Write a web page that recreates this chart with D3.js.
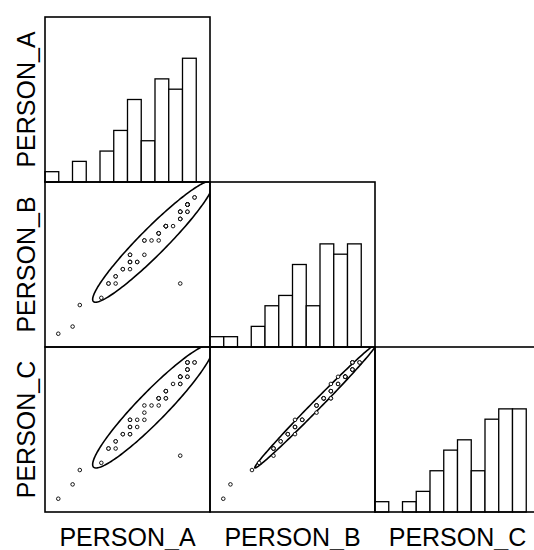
<!DOCTYPE html>
<html>
<head>
<meta charset="utf-8">
<script src="https://cdn.jsdelivr.net/npm/d3@7"></script>
<style>
  html, body { margin: 0; padding: 0; background: #fff; }
  svg { display: block; }
  text { font-family: "Liberation Sans", Arial, sans-serif; fill: #000; }
</style>
</head>
<body>
<svg id="chart" width="534" height="550"></svg>
<script>
// Variable names, in matrix order
const variables = ["PERSON_A", "PERSON_B", "PERSON_C"];

// One record per rated item: the score each person gave
const personA = [0, 2, 3, 6, 7, 7, 8, 8, 8, 9, 9, 10, 10, 10, 10, 10, 10, 11, 11, 12, 12, 12, 13, 14, 14, 14, 14, 14, 15, 15, 15, 15, 15, 16, 17, 17, 17, 17, 17, 17, 17, 17, 18, 18, 18, 18, 18, 18, 18, 18, 18, 18, 19, 19];
const personB = [0, 1, 4, 5, 7, 7, 7, 8, 8, 9, 9, 9, 10, 10, 10, 11, 11, 10, 10, 11, 13, 13, 13, 13, 14, 14, 14, 14, 15, 15, 15, 15, 15, 15, 16, 16, 17, 17, 17, 17, 16, 7, 17, 17, 18, 18, 18, 18, 18, 18, 18, 18, 19, 19];
const personC = [0, 2, 4, 5, 7, 7, 7, 8, 8, 9, 9, 9, 9, 10, 10, 11, 11, 10, 11, 11, 12, 13, 13, 13, 14, 14, 14, 14, 14, 14, 15, 15, 15, 16, 16, 16, 17, 17, 17, 17, 17, 6, 17, 17, 18, 18, 18, 18, 19, 19, 19, 19, 19, 19];

// Shared value range of the score axes and histogram settings
const scoreDomain = [-1.85, 21.15];
const binCount = 12;
const countDomain = [0, 16];
const ellipseLevel = 0.80;

const columns = [personA, personB, personC];

const cell = 165;
const padLeft = 45, padTop = 17;
const svg = d3.select("#chart");

const xScales = variables.map((_, j) =>
  d3.scaleLinear().domain(scoreDomain).range([padLeft + j * cell, padLeft + (j + 1) * cell]));
const yScales = variables.map((_, i) =>
  d3.scaleLinear().domain(scoreDomain).range([padTop + (i + 1) * cell, padTop + i * cell]));

const step = (scoreDomain[1] - scoreDomain[0]) / binCount;
const thresholds = d3.range(1, binCount).map(k => scoreDomain[0] + k * step);
const binner = d3.bin().domain(scoreDomain).thresholds(thresholds);

const defs = svg.append("defs");

// Prediction ellipse from mean and covariance of a pair of columns
function ellipsePoints(xs, ys, level) {
  const n = xs.length;
  const mx = d3.mean(xs), my = d3.mean(ys);
  let sxx = 0, syy = 0, sxy = 0;
  for (let k = 0; k < n; k++) {
    const dx = xs[k] - mx, dy = ys[k] - my;
    sxx += dx * dx; syy += dy * dy; sxy += dx * dy;
  }
  sxx /= (n - 1); syy /= (n - 1); sxy /= (n - 1);
  const tr = sxx + syy, det = sxx * syy - sxy * sxy;
  const l1 = tr / 2 + Math.sqrt(tr * tr / 4 - det);
  const l2 = tr / 2 - Math.sqrt(tr * tr / 4 - det);
  const theta = Math.atan2(l1 - sxx, sxy);
  const c = Math.sqrt(-2 * Math.log(1 - level));
  const a = c * Math.sqrt(l1), b = c * Math.sqrt(Math.max(l2, 0));
  return d3.range(0, 361, 2).map(deg => {
    const t = deg * Math.PI / 180;
    const u = a * Math.cos(t), v = b * Math.sin(t);
    return [mx + u * Math.cos(theta) - v * Math.sin(theta),
            my + u * Math.sin(theta) + v * Math.cos(theta)];
  });
}

variables.forEach((rowVar, i) => {
  variables.forEach((colVar, j) => {
    if (j > i) return;
    const x = xScales[j], y = yScales[i];
    const g = svg.append("g");
    const x0 = padLeft + j * cell, y0 = padTop + i * cell;

    const clipId = `clip-${i}-${j}`;
    defs.append("clipPath").attr("id", clipId)
      .append("rect").attr("x", x0).attr("y", y0).attr("width", cell).attr("height", cell);

    if (i === j) {
      // Histogram on the diagonal
      const bins = binner(columns[i]);
      const yc = d3.scaleLinear().domain(countDomain).range([y0 + cell, y0]);
      g.selectAll("rect.bar")
        .data(bins.filter(b => b.length > 0))
        .join("rect")
        .attr("class", "bar")
        .attr("x", b => x(b.x0))
        .attr("width", b => x(b.x1) - x(b.x0))
        .attr("y", b => yc(b.length))
        .attr("height", b => yc(0) - yc(b.length))
        .attr("fill", "#fff")
        .attr("stroke", "#000")
        .attr("stroke-width", 1.3);
    } else {
      const xs = columns[j], ys = columns[i];
      const pts = xs.map((v, k) => [v, ys[k]]);
      const ell = ellipsePoints(xs, ys, ellipseLevel);
      g.append("path")
        .attr("clip-path", `url(#${clipId})`)
        .attr("d", d3.line().x(d => x(d[0])).y(d => y(d[1]))(ell))
        .attr("fill", "none")
        .attr("stroke", "#000")
        .attr("stroke-width", 1.6);
      g.selectAll("circle")
        .data(pts)
        .join("circle")
        .attr("cx", d => x(d[0]))
        .attr("cy", d => y(d[1]))
        .attr("r", 1.8)
        .attr("fill", "#fff")
        .attr("stroke", "#000")
        .attr("stroke-width", 0.9);
    }

    g.append("rect")
      .attr("x", x0).attr("y", y0)
      .attr("width", cell).attr("height", cell)
      .attr("fill", "none")
      .attr("stroke", "#000")
      .attr("stroke-width", 1.6);
  });
});

// Variable names along the left side and the bottom
svg.selectAll("text.ylab")
  .data(variables)
  .join("text")
  .attr("class", "ylab")
  .attr("transform", (d, i) => `translate(35,${padTop + i * cell + cell / 2}) rotate(-90)`)
  .attr("text-anchor", "middle")
  .attr("font-size", 25)
  .text(d => d);

svg.selectAll("text.xlab")
  .data(variables)
  .join("text")
  .attr("class", "xlab")
  .attr("x", (d, j) => padLeft + j * cell + cell / 2)
  .attr("y", 546)
  .attr("text-anchor", "middle")
  .attr("font-size", 25)
  .text(d => d);
</script>
</body>
</html>
